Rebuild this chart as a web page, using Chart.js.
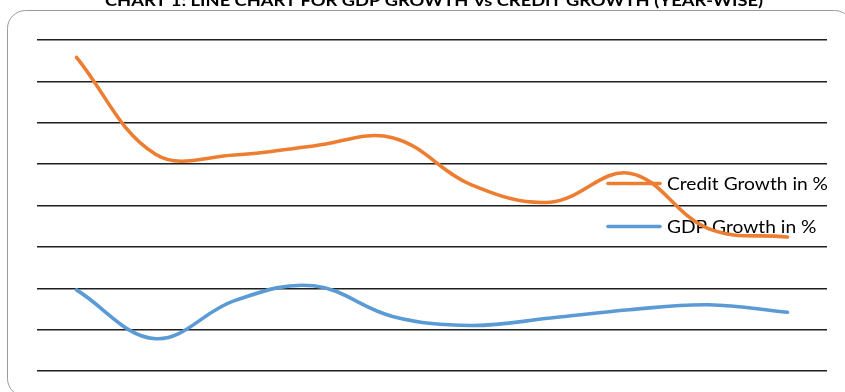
<!DOCTYPE html>
<html>
<head>
<meta charset="utf-8">
<script src="https://cdn.jsdelivr.net/npm/chart.js@4/dist/chart.umd.min.js"></script>
<style>
  html, body { margin: 0; padding: 0; background: #fff; }
  #wrap { position: relative; width: 845px; height: 392px; overflow: hidden; }
  canvas { display: block; }
</style>
</head>
<body>
<div id="wrap"><canvas id="chart" width="845" height="392"></canvas></div>
<script>
// Financial years on the category axis
const categories = ['2007-08', '2008-09', '2009-10', '2010-11', '2011-12',
                    '2012-13', '2013-14', '2014-15', '2015-16', '2016-17'];
// Year-wise growth rates, in percent
const creditGrowth = [37.9, 26.2, 26.1, 27.2, 28.2, 22.5, 20.4, 23.9, 17.2, 16.2];
const gdpGrowth    = [9.8, 3.9, 8.5, 10.3, 6.6, 5.5, 6.4, 7.4, 8.0, 7.1];
// Value axis range (gridlines every 5 %)
const yTicks = [0, 5, 10, 15, 20, 25, 30, 35, 40];

const seriesNames = ['Credit Growth in %', 'GDP Growth in %'];
const chartTitle = 'CHART 1: LINE CHART FOR GDP GROWTH Vs CREDIT GROWTH (YEAR-WISE)';

// Horizontal squeeze needed for a string at a given font to span a width
function squeeze(ctx, text, font, width) {
  ctx.save();
  ctx.font = font;
  const w = ctx.measureText(text).width;
  ctx.restore();
  return width / w;
}

function roundRect(ctx, x, y, w, h, r) {
  ctx.beginPath();
  ctx.moveTo(x + r, y);
  ctx.lineTo(x + w - r, y);
  ctx.arcTo(x + w, y, x + w, y + r, r);
  ctx.lineTo(x + w, y + h - r);
  ctx.arcTo(x + w, y + h, x + w - r, y + h, r);
  ctx.lineTo(x + r, y + h);
  ctx.arcTo(x, y + h, x, y + h - r, r);
  ctx.lineTo(x, y + r);
  ctx.arcTo(x, y, x + r, y, r);
  ctx.closePath();
}

// Draw a string starting at (x, y), squeezed to the given width
function drawFitted(ctx, text, font, x, y, width) {
  const sx = squeeze(ctx, text, font, width);
  ctx.save();
  ctx.font = font;
  ctx.translate(x, y);
  ctx.scale(sx, 1);
  ctx.fillText(text, 0, 0);
  ctx.restore();
}

const fam = 'Lato, "Liberation Sans", sans-serif';

// Outer frame, heading and the in-plot legend
const decorations = {
  id: 'decorations',
  beforeDraw(chart) {
    const ctx = chart.ctx;
    ctx.save();
    ctx.fillStyle = '#ffffff';
    ctx.fillRect(0, 0, chart.width, chart.height);
    roundRect(ctx, 7.5, 10.5, 845, 386, 18);
    ctx.strokeStyle = '#9a9a9a';
    ctx.lineWidth = 1;
    ctx.stroke();

    ctx.fillStyle = '#000000';
    ctx.textAlign = 'left';
    ctx.textBaseline = 'alphabetic';
    drawFitted(ctx, chartTitle, 'bold 16px ' + fam, 105, 6, 658);
    ctx.restore();
  },
  beforeDatasetsDraw(chart) {
    const ctx = chart.ctx;
    const font = '18px ' + fam;
    const sx = squeeze(ctx, seriesNames[0], font, 161);
    const rows = [190, 233];
    ctx.save();
    chart.data.datasets.forEach((ds, i) => {
      const y = rows[i] - 6.5;
      ctx.beginPath();
      ctx.moveTo(608, y);
      ctx.lineTo(660, y);
      ctx.strokeStyle = ds.borderColor;
      ctx.lineWidth = 3.6;
      ctx.lineCap = 'round';
      ctx.stroke();
      ctx.fillStyle = '#000000';
      ctx.textBaseline = 'alphabetic';
      ctx.save();
      ctx.font = font;
      ctx.translate(667, rows[i]);
      ctx.scale(sx, 1);
      ctx.fillText(ds.label, 0, 0);
      ctx.restore();
    });
    ctx.restore();
  }
};

new Chart(document.getElementById('chart'), {
  type: 'line',
  data: {
    labels: categories,
    datasets: [
      {
        label: seriesNames[0],
        data: creditGrowth,
        borderColor: '#ED7D31',
        backgroundColor: '#ED7D31',
        borderWidth: 3.6,
        borderCapStyle: 'round',
        pointRadius: 0,
        tension: 0.38,
        fill: false
      },
      {
        label: seriesNames[1],
        data: gdpGrowth,
        borderColor: '#5B9BD5',
        backgroundColor: '#5B9BD5',
        borderWidth: 3.6,
        borderCapStyle: 'round',
        pointRadius: 0,
        tension: 0.38,
        fill: false
      }
    ]
  },
  options: {
    responsive: false,
    animation: false,
    events: [],
    layout: { padding: { left: 37, right: 18, top: 40, bottom: 21 } },
    plugins: {
      legend: { display: false },
      title: { display: false },
      tooltip: { enabled: false }
    },
    scales: {
      x: {
        display: false,
        offset: true
      },
      y: {
        min: yTicks[0],
        max: yTicks[yTicks.length - 1],
        afterBuildTicks(scale) {
          scale.ticks = yTicks.map(v => ({ value: v }));
        },
        ticks: { display: false },
        border: { display: false },
        grid: { color: '#1f1f1f', lineWidth: 1.4, drawTicks: false }
      }
    }
  },
  plugins: [decorations]
});
</script>
</body>
</html>
